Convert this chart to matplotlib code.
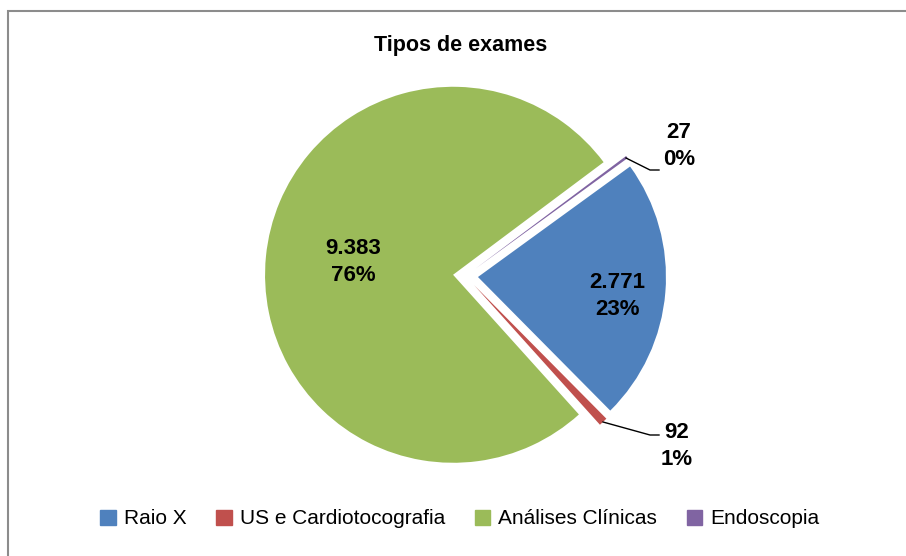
import numpy as np
import matplotlib
matplotlib.use("Agg")
from matplotlib import pyplot as plt
from matplotlib.patches import Rectangle

categories = ["Raio X", "US e Cardiotocografia", "Análises Clínicas", "Endoscopia"]
values = [2771, 92, 9383, 27]
colors = ["#4f81bd", "#c0504d", "#9bbb59", "#8064a2"]
title = "Tipos de exames"

plt.rcParams['font.family'] = ['Liberation Sans', 'DejaVu Sans']

W, H = 906, 556
fig = plt.figure(figsize=(W / 100, H / 100), dpi=100)
ax = fig.add_axes([0, 0, 1, 1])
ax.set_xlim(0, W)
ax.set_ylim(0, H)
ax.set_aspect('equal')
ax.axis('off')

# chart frame (only top/left edges are visible in the image)
ax.add_patch(Rectangle((8, -20), W + 20, H - 11 + 20, fill=False,
                       edgecolor='#8c8c8c', lw=1.5))

cx, cy = 465.5, H - 276
radius = 188
total = sum(values)
pcts = [v / total * 100 for v in values]

# explode is in data units here (pixels)
wedges, _ = ax.pie(values, colors=colors, startangle=36, counterclock=False,
                   center=(cx, cy), radius=radius, explode=[12.5] * 4,
                   wedgeprops=dict(linewidth=0), frame=False)
ax.set_xlim(0, W)
ax.set_ylim(0, H)


def fmt(v, p):
    return "{:,}".format(v).replace(",", ".") + "\n" + "{:.0f}%".format(p)


lab_kw = dict(ha='center', va='center', fontsize=16, fontweight='bold',
              linespacing=1.35)
# inside labels
ax.text(617, H - 296, fmt(values[0], pcts[0]), **lab_kw)
ax.text(353, H - 262, fmt(values[2], pcts[2]), **lab_kw)

# outside labels with leader lines
for i, (p0, p1, p2, tp) in {
    3: ((626, 158), (650, 170), (659, 170), (679, 146)),
    1: ((603, 422), (650, 435), (659, 435), (677, 446)),
}.items():
    xs = [p0[0], p1[0], p2[0]]
    ys = [H - p0[1], H - p1[1], H - p2[1]]
    ax.plot(xs, ys, color='black', lw=1)
    ax.text(tp[0], H - tp[1], fmt(values[i], pcts[i]), **lab_kw)

ax.text(W / 2 + 8, H - 45, title, ha='center', va='center', fontsize=15.5,
        fontweight='bold')

# legend
handles = [Rectangle((0, 0), 1, 1, color=c) for c in colors]
fig.legend(handles, categories, loc='center', bbox_to_anchor=(460 / W, 1 - 519 / H),
           ncol=4, frameon=False, fontsize=15, handlelength=0.75, handleheight=0.75,
           handletextpad=0.4, columnspacing=1.4)

fig.savefig("out.png", dpi=100, facecolor='white')
